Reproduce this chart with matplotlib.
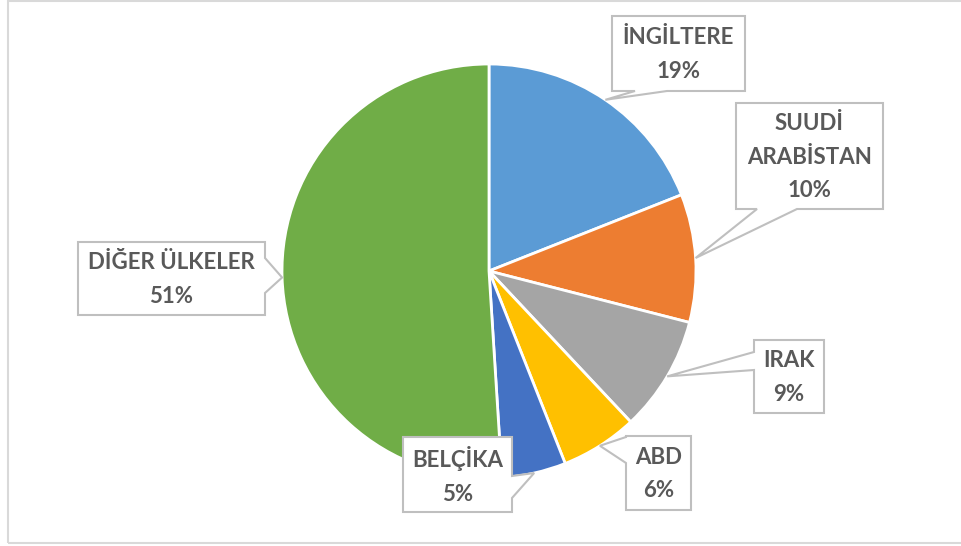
import numpy as np
import matplotlib.pyplot as plt
from matplotlib.patches import Polygon, Rectangle

# data
countries = ['İNGİLTERE', 'SUUDİ\nARABİSTAN', 'IRAK', 'ABD', 'BELÇİKA', 'DİĞER ÜLKELER']
shares = [19, 10, 9, 6, 5, 51]
colors = ['#5B9BD5', '#ED7D31', '#A5A5A5', '#FFC000', '#4472C4', '#70AD47']

W, H = 962, 546
# callout boxes in pixel coords (x0, y0, x1, y1), pointer side and base along that side
boxes = [(612, 16, 745, 91), (736, 103, 883, 209), (754, 340, 824, 413),
         (626, 436, 691, 510), (403, 437, 512, 512), (78, 242, 265, 315)]
sides = ['bottom', 'bottom', 'left', 'left', 'right', 'right']
bases = [(635, 667), (757, 797), (352, 370), (437, 463), (476, 498), (258, 293)]

fig = plt.figure(figsize=(W / 100, H / 100), dpi=100)
ax = fig.add_axes([0, 0, 1, 1])

cx, cy, r = 489, H - 271, 207
wedges, _ = ax.pie(shares, colors=colors, startangle=90, counterclock=False,
                   center=(cx, cy), radius=r, frame=True,
                   wedgeprops=dict(edgecolor='white', linewidth=2))
ax.set_xlim(0, W)
ax.set_ylim(0, H)
ax.set_aspect('equal')
ax.axis('off')

# outer chart border (right side runs off the picture)
ax.add_patch(Rectangle((8, H - 543), 1000, 542, fill=False, ec='#D9D9D9', lw=1.5, clip_on=False))


def callout(box, side, base, tip):
    x0, y0, x1, y1 = box
    b1, b2 = base
    if side == 'bottom':
        pts = [(x0, y0), (x1, y0), (x1, y1), (b2, y1), tip, (b1, y1), (x0, y1)]
    elif side == 'left':
        pts = [(x0, y0), (x1, y0), (x1, y1), (x0, y1), (x0, b2), tip, (x0, b1)]
    else:
        pts = [(x0, y0), (x1, y0), (x1, b1), tip, (x1, b2), (x1, y1), (x0, y1)]
    pts = [(px, H - py) for px, py in pts]
    ax.add_patch(Polygon(pts, closed=True, fc='white', ec='#BFBFBF', lw=1.5, zorder=5))


for w, name, s, box, side, base in zip(wedges, countries, shares, boxes, sides, bases):
    # leader tip sits on the rim at the middle of the slice
    mid = np.deg2rad((w.theta1 + w.theta2) / 2)
    tx = cx + r * np.cos(mid)
    ty = H - (cy + r * np.sin(mid))
    callout(box, side, base, (tx, ty))
    x0, y0, x1, y1 = box
    ax.text((x0 + x1) / 2, H - (y0 + y1) / 2 - 1, f'{name}\n{s}%', ha='center', va='center',
            fontsize=16, fontweight='bold', color='#595959', family=['Lato', 'DejaVu Sans'],
            linespacing=1.75, zorder=6)

fig.savefig('out.png', dpi=100)
